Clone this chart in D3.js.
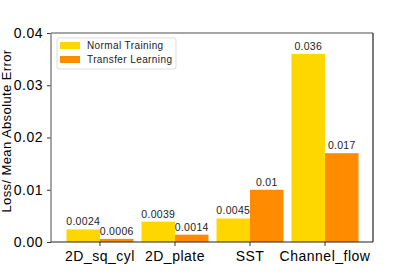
<!DOCTYPE html>
<html>
<head>
<meta charset="utf-8">
<script src="https://cdn.jsdelivr.net/npm/d3@7"></script>
<style>
  body { margin: 0; background: #fff; }
  text { font-family: "Liberation Sans", Arial, sans-serif; fill: #000; }
</style>
</head>
<body>
<div id="chart"></div>
<script>
const categories = ["2D_sq_cyl", "2D_plate", "SST", "Channel_flow"];
const seriesNames = ["Normal Training", "Transfer Learning"];
const normalTraining = [0.0024, 0.0039, 0.0045, 0.036];
const transferLearning = [0.0006, 0.0014, 0.01, 0.017];
const normalLabels = ["0.0024", "0.0039", "0.0045", "0.036"];
const transferLabels = ["0.0006", "0.0014", "0.01", "0.017"];
const yTicks = [0, 0.01, 0.02, 0.03, 0.04];
const colors = ["#FFD700", "#FF8C00"];

const W = 415, H = 277;
const margin = { top: 33, right: 42, bottom: 35, left: 51 };
const width = W - margin.left - margin.right;
const height = H - margin.top - margin.bottom;

const svg = d3.select("#chart").append("svg")
    .attr("width", W)
    .attr("height", H);

const g = svg.append("g")
    .attr("transform", `translate(${margin.left},${margin.top})`);

const x = d3.scaleBand()
    .domain(categories)
    .range([11.5, width - 10.5])
    .paddingInner(0.107)
    .paddingOuter(0.053);

const xs = d3.scaleBand()
    .domain(seriesNames)
    .range([0, x.bandwidth()]);

const y = d3.scaleLinear().domain([0, 0.04]).range([height, 0]);

const series = [normalTraining, transferLearning];
const labels = [normalLabels, transferLabels];

series.forEach((vals, s) => {
    g.selectAll(".bar" + s)
        .data(vals)
        .enter().append("rect")
        .attr("x", (d, i) => x(categories[i]) + xs(seriesNames[s]))
        .attr("y", d => y(d))
        .attr("width", xs.bandwidth())
        .attr("height", d => y(0) - y(d))
        .attr("fill", colors[s]);

    g.selectAll(".lab" + s)
        .data(vals)
        .enter().append("text")
        .attr("x", (d, i) => x(categories[i]) + xs(seriesNames[s]) + xs.bandwidth() / 2)
        .attr("y", d => y(d) - 4)
        .attr("text-anchor", "middle")
        .style("font-size", "10.5px")
        .style("letter-spacing", "0.3px")
        .style("fill", "#222")
        .text((d, i) => labels[s][i]);
});

// y axis
const yAxis = g.append("g")
    .call(d3.axisLeft(y).tickValues(yTicks).tickFormat(d3.format(".2f")).tickSize(4).tickPadding(4));
yAxis.select(".domain").remove();
yAxis.selectAll(".tick line").attr("stroke", "#333");
yAxis.selectAll(".tick text").style("font-size", "14px").style("letter-spacing", "0.5px");

// x axis
const xAxis = g.append("g")
    .attr("transform", `translate(0,${height})`)
    .call(d3.axisBottom(x).tickSize(4).tickPadding(5));
xAxis.select(".domain").remove();
xAxis.selectAll(".tick line").attr("stroke", "#333");
xAxis.selectAll(".tick text").style("font-size", "14px").style("letter-spacing", "0.5px");

// spines
g.append("line").attr("x1", 0).attr("x2", width).attr("y1", 0).attr("y2", 0)
    .attr("stroke", "#888").attr("stroke-width", 1.5);
g.append("line").attr("x1", 0).attr("x2", 0).attr("y1", 0).attr("y2", height)
    .attr("stroke", "#888").attr("stroke-width", 1.5);
g.append("line").attr("x1", width).attr("x2", width).attr("y1", 0).attr("y2", height)
    .attr("stroke", "#222").attr("stroke-width", 1.2);
g.append("line").attr("x1", 0).attr("x2", width).attr("y1", height).attr("y2", height)
    .attr("stroke", "#222").attr("stroke-width", 1.2);

// y label
svg.append("text")
    .attr("transform", `translate(11,131) rotate(-90)`)
    .attr("text-anchor", "middle")
    .style("font-size", "13px")
    .style("letter-spacing", "0.4px")
    .text("Loss/ Mean Absolute Error");

// legend
const legend = g.append("g").attr("transform", "translate(6,5)");
legend.append("rect")
    .attr("width", 119).attr("height", 31).attr("rx", 2)
    .attr("fill", "#fff").attr("fill-opacity", 0.8)
    .attr("stroke", "#ddd");
seriesNames.forEach((name, i) => {
    legend.append("rect")
        .attr("x", 3).attr("y", 4 + i * 14)
        .attr("width", 20).attr("height", 7)
        .attr("fill", colors[i]);
    legend.append("text")
        .attr("x", 30).attr("y", 11 + i * 14)
        .style("font-size", "10px")
        .style("letter-spacing", "0.4px")
        .style("fill", "#222")
        .text(name);
});
</script>
</body>
</html>
